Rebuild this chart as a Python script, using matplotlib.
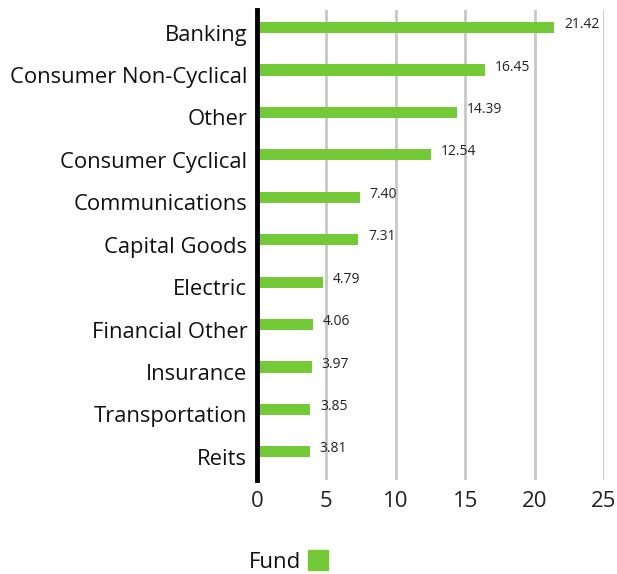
import matplotlib
matplotlib.use('Agg')
import matplotlib.pyplot as plt
import matplotlib.transforms as mtransforms
from matplotlib.patches import Rectangle

# Datos
sectores = ['Banking', 'Consumer Non-Cyclical', 'Other', 'Consumer Cyclical',
            'Communications', 'Capital Goods', 'Electric', 'Financial Other',
            'Insurance', 'Transportation', 'Reits']
valores = [21.42, 16.45, 14.39, 12.54, 7.40, 7.31, 4.79, 4.06, 3.97, 3.85, 3.81]
ticks_x = [0, 5, 10, 15, 20, 25]
serie = 'Fund'

VERDE = '#74c936'
plt.rcParams['font.family'] = ['Open Sans', 'DejaVu Sans']

fig = plt.figure(figsize=(6.17, 5.74), dpi=100)
ax = fig.add_axes([0.4165, 0.164, 0.5625, 0.819])

pos = list(range(len(sectores)))
ax.barh(pos, valores, height=0.26, color=VERDE, zorder=3)

for p, v in zip(pos, valores):
    ax.text(v + 0.7, p - 0.07, f'{v:.2f}', va='center', ha='left',
            fontsize=10, color='#222222')

ax.set_xlim(0, 25)
ax.set_ylim(10.66, -0.42)
ax.set_xticks(ticks_x)
ax.set_xticklabels([str(t) for t in ticks_x], fontsize=16, color='#222222')
ax.set_yticks(pos)
ax.set_yticklabels(sectores, fontsize=15.8, color='#111111')
ax.tick_params(axis='x', length=0, pad=8)
ax.tick_params(axis='y', length=0, pad=7)

# bajar un poco las etiquetas de categoría
desplaza = mtransforms.ScaledTranslation(0, -5 / 100, fig.dpi_scale_trans)
for lbl in ax.get_yticklabels():
    lbl.set_transform(lbl.get_transform() + desplaza)

ax.grid(axis='x', color='#c8c8c8', lw=2, zorder=0)
for s in ['top', 'right', 'bottom']:
    ax.spines[s].set_visible(False)
ax.spines['left'].set_linewidth(3.5)
ax.spines['left'].set_color('black')
ax.spines['left'].set_zorder(5)

# Leyenda
fig.text(249 / 617, 1 - 562 / 574, serie, fontsize=16, va='center',
         ha='left', color='#111111')
fig.patches.append(Rectangle((308 / 617, 1 - 570 / 574), 20 / 617, 20 / 574,
                             transform=fig.transFigure, color=VERDE))

fig.savefig('out.png', dpi=100)
